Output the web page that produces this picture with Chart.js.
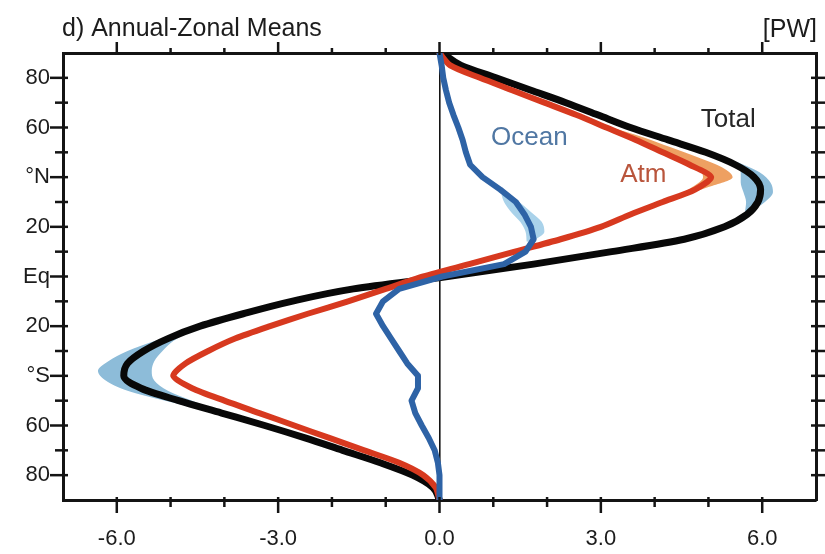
<!DOCTYPE html>
<html>
<head>
<meta charset="utf-8">
<title>Annual-Zonal Means</title>
<script src="https://cdn.jsdelivr.net/npm/chart.js@4.4.1/dist/chart.umd.min.js"></script>
<style>
  html, body { margin: 0; padding: 0; background: #fff; }
  #wrap { width: 825px; height: 554px; }
  canvas { display: block; }
</style>
</head>
<body>
<div id="wrap"><canvas id="chart" width="825" height="554"></canvas></div>
<script>
// Northward energy transport [PW] against latitude (90N at top, 90S at bottom)
const latitudes = [90, 85, 80, 75, 70, 65, 60, 55, 50, 45, 40, 35, 30, 25, 20, 15, 10, 5, 0,
  -5, -10, -15, -20, -25, -30, -35, -40, -45, -50, -55, -60, -65, -70, -75, -80, -85, -90];

const totalTransport = [0.05, 0.4, 1.05, 1.7, 2.35, 2.95, 3.55, 4.25, 4.95, 5.5, 5.85, 5.97, 5.92, 5.72, 5.3, 4.55, 3.2, 1.75, 0.15,
  -1.6, -2.75, -3.65, -4.45, -5.05, -5.5, -5.8, -5.87, -5.55, -4.85, -4.05, -3.25, -2.5, -1.8, -1.1, -0.5, -0.12, 0];

const atmTransport = [0, 0.2, 0.75, 1.35, 1.95, 2.55, 3.1, 3.65, 4.15, 4.65, 5.05, 4.75, 4.15, 3.55, 3.0, 2.25, 1.4, 0.55, -0.3,
  -1.0, -1.7, -2.45, -3.15, -3.8, -4.3, -4.72, -4.95, -4.6, -4.0, -3.35, -2.7, -2.05, -1.4, -0.75, -0.3, -0.07, 0];

const oceanTransport = [0, 0.04, 0.07, 0.12, 0.18, 0.26, 0.35, 0.43, 0.49, 0.57, 0.8, 1.13, 1.42, 1.58, 1.7, 1.75, 1.6, 1.2, 0.05,
  -0.75, -1.05, -1.18, -1.05, -0.9, -0.75, -0.6, -0.4, -0.4, -0.52, -0.45, -0.33, -0.2, -0.09, -0.03, 0, 0, 0];

// Uncertainty ranges around the transport peaks
const totalRangeNorthLat  = [26, 30, 34, 38, 42, 46];
const totalRangeNorthHigh = [5.78, 6.05, 6.2, 6.15, 5.95, 5.55];
const totalRangeNorthLow  = [5.68, 5.7, 5.65, 5.6, 5.6, 5.45];

const totalRangeSouthLat  = [-22, -26, -30, -34, -38, -42, -46, -50, -54];
const totalRangeSouthHigh = [-4.65, -4.95, -5.15, -5.3, -5.35, -5.3, -5.05, -4.6, -4.1];
const totalRangeSouthLow  = [-4.75, -5.3, -5.8, -6.15, -6.35, -6.2, -5.8, -5.1, -4.3];

const atmRangeLat  = [32, 36, 40, 44, 48, 52, 56, 60];
const atmRangeHigh = [4.45, 5.0, 5.45, 5.25, 4.8, 4.3, 3.8, 3.2];
const atmRangeLow  = [4.4, 4.7, 4.9, 4.8, 4.45, 4.0, 3.6, 3.1];

const oceanRangeLat  = [14, 18, 22, 26, 30, 33];
const oceanRangeHigh = [1.72, 1.95, 1.9, 1.7, 1.48, 1.28];
const oceanRangeLow  = [1.62, 1.6, 1.5, 1.33, 1.2, 1.15];

// Axis tick labels
const pwTickValues  = [-6, -3, 0, 3, 6];
const pwTickLabels  = ['-6.0', '-3.0', '0.0', '3.0', '6.0'];
const latTickValues = [80, 60, 40, 20, 0, -20, -40, -60, -80];
const latTickLabels = ['80', '60', '°N', '20', 'Eq', '20', '°S', '60', '80'];

const chartTitle = 'd) Annual-Zonal Means';
const unitLabel = '[PW]';

// Curve name annotations, anchored in data units
const curveNotes = [
  { text: 'Ocean', pw: 1.67, lat: 55.8, color: '#5077a3' },
  { text: 'Atm',   pw: 3.79, lat: 40.9, color: '#b9553c' },
  { text: 'Total', pw: 5.37, lat: 63.0, color: '#262626' }
];

const FONT = "'Liberation Sans', Arial, Helvetica, sans-serif";
const INK = '#141414';

function toPoints(lats, values) {
  return lats.map((lat, i) => ({ x: values[i], y: lat }));
}

function rangeBand(lats, high, low, color) {
  return [
    { data: toPoints(lats, high), borderColor: 'rgba(0,0,0,0)', borderWidth: 0, fill: false,
      cubicInterpolationMode: 'monotone', order: 10 },
    { data: toPoints(lats, low), borderColor: 'rgba(0,0,0,0)', borderWidth: 0, fill: '-1',
      backgroundColor: color, cubicInterpolationMode: 'monotone', order: 10 }
  ];
}

// Frame ticks on all four sides plus the title and curve names
const frameDecor = {
  id: 'frameDecor',
  afterDraw(chart) {
    const { ctx, chartArea: a, scales } = chart;
    const seg = (x1, y1, x2, y2) => { ctx.beginPath(); ctx.moveTo(x1, y1); ctx.lineTo(x2, y2); ctx.stroke(); };
    ctx.save();
    ctx.strokeStyle = INK;
    ctx.lineWidth = 2.5;
    ctx.lineCap = 'butt';
    scales.y.ticks.forEach(t => {
      if (Math.abs(t.value) >= 90) return;
      const py = scales.y.getPixelForValue(t.value);
      const major = latTickValues.includes(t.value);
      seg(a.left - (major ? 13 : 8), py, a.left + 5, py);
      seg(a.right - 5, py, a.right + 9, py);
    });
    scales.x.ticks.forEach(t => {
      if (Math.abs(t.value) >= 7) return;
      const px = scales.x.getPixelForValue(t.value);
      const major = pwTickValues.includes(t.value);
      seg(px, a.bottom - 3, px, a.bottom + (major ? 13 : 7));
      seg(px, a.top + 2, px, a.top - (major ? 11 : 5));
    });

    ctx.fillStyle = '#1c1c1c';
    ctx.font = '25px ' + FONT;
    ctx.textBaseline = 'alphabetic';
    ctx.textAlign = 'left';
    ctx.fillText(chartTitle, a.left - 1, a.top - 17);
    ctx.textAlign = 'right';
    ctx.fillText(unitLabel, a.right + 1, a.top - 16);

    ctx.font = '26px ' + FONT;
    ctx.textAlign = 'center';
    ctx.textBaseline = 'middle';
    curveNotes.forEach(n => {
      ctx.fillStyle = n.color;
      ctx.fillText(n.text, scales.x.getPixelForValue(n.pw), scales.y.getPixelForValue(n.lat));
    });
    ctx.restore();
  }
};

const tickFont = { family: FONT, size: 22 };

new Chart(document.getElementById('chart'), {
  type: 'line',
  data: {
    datasets: [
      { label: 'Ocean', data: toPoints(latitudes, oceanTransport), borderColor: '#2e63a6', borderWidth: 6,
        tension: 0, fill: false, order: 1 },
      { label: 'Atm', data: toPoints(latitudes, atmTransport), borderColor: '#d7391f', borderWidth: 6,
        tension: 0.25, fill: false, order: 2 },
      { label: 'Total', data: toPoints(latitudes, totalTransport), borderColor: '#080808', borderWidth: 7,
        cubicInterpolationMode: 'monotone', fill: false, order: 3 },
      ...rangeBand(totalRangeNorthLat, totalRangeNorthHigh, totalRangeNorthLow, '#8dbcd9'),
      ...rangeBand(totalRangeSouthLat, totalRangeSouthHigh, totalRangeSouthLow, '#8dbcd9'),
      ...rangeBand(atmRangeLat, atmRangeHigh, atmRangeLow, '#eea062'),
      ...rangeBand(oceanRangeLat, oceanRangeHigh, oceanRangeLow, '#a9d2ea')
    ]
  },
  options: {
    responsive: false,
    animation: false,
    devicePixelRatio: 1,
    indexAxis: 'y',
    layout: { padding: 0 },
    elements: {
      point: { radius: 0, hoverRadius: 0 },
      line: { borderCapStyle: 'round', borderJoinStyle: 'round' }
    },
    plugins: { legend: { display: false }, tooltip: { enabled: false }, title: { display: false } },
    scales: {
      x: {
        type: 'linear', position: 'bottom', min: -7, max: 7,
        afterFit: s => { s.height = 54; s.paddingLeft = 0; s.paddingRight = 0; },
        ticks: {
          stepSize: 1, autoSkip: false, maxRotation: 0, padding: 26, color: '#1c1c1c', font: tickFont,
          callback: v => { const i = pwTickValues.indexOf(v); return i >= 0 ? pwTickLabels[i] : ''; }
        },
        grid: {
          drawTicks: false, drawOnChartArea: true, lineWidth: 1.6,
          color: c => (c.tick && c.tick.value === 0) ? INK : 'rgba(0,0,0,0)'
        },
        border: { display: true, color: INK, width: 3 }
      },
      x2: {
        type: 'linear', position: 'top', min: -7, max: 7,
        afterFit: s => { s.height = 53; s.paddingLeft = 0; s.paddingRight = 0; },
        ticks: { display: false },
        grid: { display: false, drawTicks: false },
        border: { display: true, color: INK, width: 3 }
      },
      y: {
        type: 'linear', position: 'left', min: -90, max: 90,
        afterFit: s => { s.width = 63; s.paddingTop = 0; s.paddingBottom = 0; },
        ticks: {
          stepSize: 10, autoSkip: false, padding: 13, color: '#1c1c1c', font: tickFont,
          callback: v => { const i = latTickValues.indexOf(v); return i >= 0 ? latTickLabels[i] : ''; }
        },
        grid: { display: false, drawTicks: false },
        border: { display: true, color: INK, width: 3 }
      },
      y2: {
        type: 'linear', position: 'right', min: -90, max: 90,
        afterFit: s => { s.width = 9; s.paddingTop = 0; s.paddingBottom = 0; },
        ticks: { display: false },
        grid: { display: false, drawTicks: false },
        border: { display: true, color: INK, width: 3 }
      }
    }
  },
  plugins: [frameDecor]
});
</script>
</body>
</html>
